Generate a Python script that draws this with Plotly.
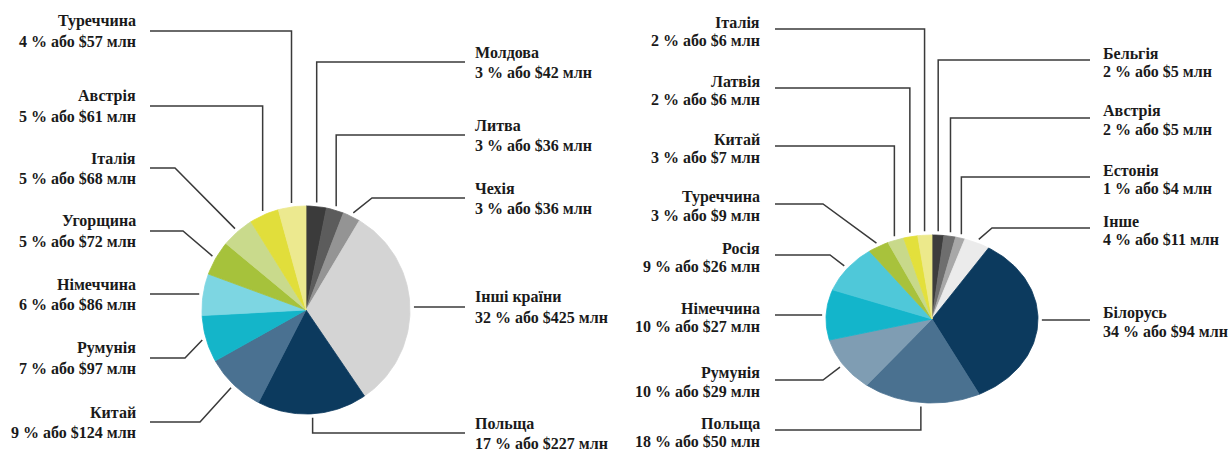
import numpy as np
import plotly.graph_objects as go

# ---------------- DATA ----------------
# Left pie (clockwise from 12 o'clock)
left_names = ["Молдова", "Литва", "Чехія", "Інші країни", "Польща", "Китай",
              "Румунія", "Німеччина", "Угорщина", "Італія", "Австрія", "Туреччина"]
left_values = [42, 36, 36, 425, 227, 124, 97, 86, 72, 68, 61, 57]        # $ млн
left_pct = [3, 3, 3, 32, 17, 9, 7, 6, 5, 5, 5, 4]                          # %

# Right pie (clockwise from 12 o'clock)
right_names = ["Бельгія", "Австрія", "Естонія", "Інше", "Білорусь", "Польща",
               "Румунія", "Німеччина", "Росія", "Туреччина", "Китай", "Латвія", "Італія"]
right_values = [5, 5, 4, 11, 94, 50, 29, 27, 26, 9, 7, 6, 6]              # $ млн
right_pct = [2, 2, 1, 4, 34, 18, 10, 10, 9, 3, 3, 2, 2]                    # %

# ---------------- STYLE / LAYOUT ----------------
left_colors = ["#3b3b3b", "#5c5c5c", "#949494", "#d4d4d4", "#0c3a5e", "#4a7191",
               "#14b5c9", "#7dd6e2", "#a6c23b", "#c9da8c", "#e1de3b", "#ece98f"]
right_colors = ["#3d3d3d", "#6e6e6e", "#a8a8a8", "#ebebeb", "#0c3a5e", "#4a7190",
                "#7f9db3", "#13b5cb", "#4fc8d9", "#a8c23c", "#c8d98a", "#e3e03c", "#ece98b"]

# per-label leader layout: (side, leader_y, mode, elbow_x, name_dy, value_dy)
left_layout = [("R", 62, "v", None), ("R", 135, "v", None), ("R", 198, "d", 372),
               ("R", 307, "h", None), ("R", 433, "v", None), ("L", 422, "d", 200),
               ("L", 358, "d", 185), ("L", 294, "h", None), ("L", 231, "d", 183),
               ("L", 168, "d", 175), ("L", 106, "v", None), ("L", 31, "v", None)]
right_layout = [("R", 60, "v", None), ("R", 118, "v", None), ("R", 177, "v", None),
                ("R", 228, "d", 992), ("R", 320, "h", None), ("L", 430, "v", None),
                ("L", 380, "d", 823), ("L", 315, "h", None), ("L", 255, "d", 830),
                ("L", 204, "d", 823), ("L", 146, "v", None), ("L", 88, "v", None),
                ("L", 29, "v", None)]

pies = [
    dict(names=left_names, values=left_values, pct=left_pct, colors=left_colors,
         layout=left_layout, cx=306, cy=310, rx=104, ry=104,
         line_l=150, text_l=138, line_r=465, text_r=473, dy_name=-10, dy_val=10.5),
    dict(names=right_names, values=right_values, pct=right_pct, colors=right_colors,
         layout=right_layout, cx=932, cy=319, rx=106, ry=84,
         line_l=775, text_l=762, line_r=1090, text_r=1101, dy_name=-7, dy_val=11),
]

FONT = dict(family="Liberation Serif, Times New Roman, serif", size=16, color="#1a1a1a")
LINE_COLOR = "#3a3a3a"
GAP = 4

fig = go.Figure()
annotations = []

for p in pies:
    vals = np.array(p["values"], dtype=float)
    cum = np.concatenate([[0], np.cumsum(vals)]) / vals.sum() * 2 * np.pi
    cx, cy, rx, ry = p["cx"], p["cy"], p["rx"], p["ry"]
    # slices
    for i in range(len(vals)):
        a0, a1 = cum[i], cum[i + 1]
        n = max(4, int((a1 - a0) / (2 * np.pi) * 240))
        th = np.linspace(a0, a1, n)
        xs = np.concatenate([[cx], cx + rx * np.sin(th), [cx]])
        ys = np.concatenate([[cy], cy - ry * np.cos(th), [cy]])
        fig.add_trace(go.Scatter(x=xs, y=ys, mode="lines", fill="toself",
                                 fillcolor=p["colors"][i],
                                 line=dict(color=p["colors"][i], width=0.8),
                                 hoverinfo="skip", showlegend=False))
    # leaders + labels
    lx, ly = [], []
    for i, (side, yl, mode, ex) in enumerate(p["layout"]):
        am = (cum[i] + cum[i + 1]) / 2
        px = cx + (rx + GAP) * np.sin(am)
        py = cy - (ry + GAP) * np.cos(am)
        ax = p["line_l"] if side == "L" else p["line_r"]
        if mode == "v":
            pts = [(ax, yl), (px, yl), (px, py)]
        elif mode == "d":
            pts = [(ax, yl), (ex, yl), (px, py)]
        else:
            pts = [(ax, yl), (px, yl)]
        for (xx, yy) in pts:
            lx.append(xx); ly.append(yy)
        lx.append(None); ly.append(None)
        tx = p["text_l"] if side == "L" else p["text_r"]
        xa = "right" if side == "L" else "left"
        annotations.append(dict(x=tx, y=yl + p["dy_name"], xref="x", yref="y",
                                text="<b>%s</b>" % p["names"][i], showarrow=False,
                                xanchor=xa, yanchor="middle", font=FONT))
        annotations.append(dict(x=tx, y=yl + p["dy_val"], xref="x", yref="y",
                                text="<b>%d %% або $%d млн</b>" % (p["pct"][i], p["values"][i]),
                                showarrow=False, xanchor=xa, yanchor="middle", font=FONT))
    fig.add_trace(go.Scatter(x=lx, y=ly, mode="lines",
                             line=dict(color=LINE_COLOR, width=1.5),
                             hoverinfo="skip", showlegend=False))

fig.update_layout(
    width=1232, height=452,
    margin=dict(l=0, r=0, t=0, b=0),
    paper_bgcolor="white", plot_bgcolor="white",
    xaxis=dict(range=[0, 1232], visible=False, fixedrange=True),
    yaxis=dict(range=[452, 0], visible=False, fixedrange=True),
    annotations=annotations,
    showlegend=False,
)

fig.write_html("out.html", config={"displayModeBar": False},
               post_script="document.body.style.margin='0';document.body.style.overflow='hidden';")
